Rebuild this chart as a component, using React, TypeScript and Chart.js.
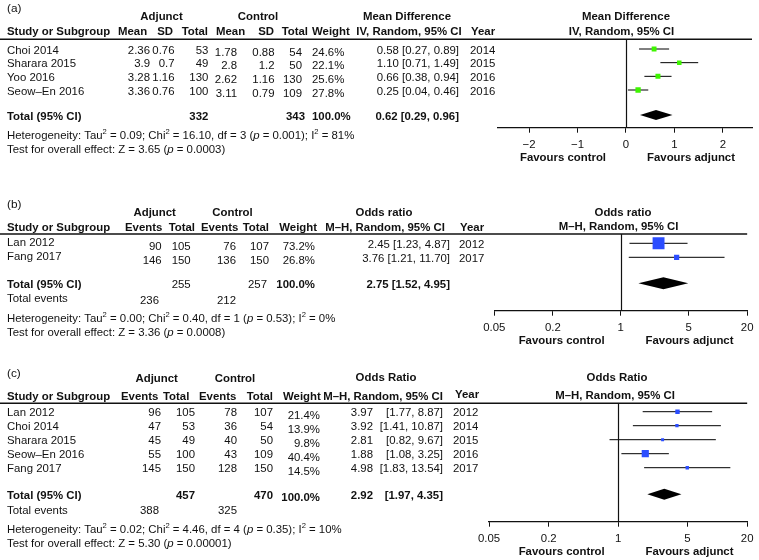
import React, { useEffect, useRef } from 'react';
import { Chart, registerables } from 'chart.js';

Chart.register(...registerables);

const FONT = '"Liberation Sans", Arial, Helvetica, sans-serif';
const FS = 11.4;
const TEXT_DY = 1.6;
const W = 759;
const H = 560;

// ---------------- Panel (a): mean difference ----------------
const studiesA = ['Choi 2014', 'Sharara 2015', 'Yoo 2016', 'Seow–En 2016'];
const adjMeanA = [2.36, 3.9, 3.28, 3.36];
const adjSdA = [0.76, 0.7, 1.16, 0.76];
const adjTotalA = [53, 49, 130, 100];
const ctlMeanA = [1.78, 2.8, 2.62, 3.11];
const ctlSdA = [0.88, 1.2, 1.16, 0.79];
const ctlTotalA = [54, 50, 130, 109];
const weightA = [24.6, 22.1, 25.6, 27.8];
const mdA = [0.58, 1.1, 0.66, 0.25];
const mdLowA = [0.27, 0.71, 0.38, 0.04];
const mdHighA = [0.89, 1.49, 0.94, 0.46];
const yearA = [2014, 2015, 2016, 2016];
const pooledA = [0.62, 0.29, 0.96];
const totalsA = [332, 343];
const hetA = ['0.09', '16.10', '3', '0.001', '81'];
const overallA = ['3.65', '0.0003'];
const tickValuesA = [-2, -1, 0, 1, 2];
const tickLabelsA = ['−2', '−1', '0', '1', '2'];

// ---------------- Panel (b): odds ratio ----------------
const studiesB = ['Lan 2012', 'Fang 2017'];
const adjEventsB = [90, 146];
const adjTotalB = [105, 150];
const ctlEventsB = [76, 136];
const ctlTotalB = [107, 150];
const weightB = [73.2, 26.8];
const orB = [2.45, 3.76];
const orLowB = [1.23, 1.21];
const orHighB = [4.87, 11.7];
const yearB = [2012, 2017];
const pooledB = [2.75, 1.52, 4.95];
const totalsB = [255, 257];
const totalEventsB = [236, 212];
const hetB = ['0.00', '0.40', '1', '0.53', '0'];
const overallB = ['3.36', '0.0008'];

// ---------------- Panel (c): odds ratio ----------------
const studiesC = ['Lan 2012', 'Choi 2014', 'Sharara 2015', 'Seow–En 2016', 'Fang 2017'];
const adjEventsC = [96, 47, 45, 55, 145];
const adjTotalC = [105, 53, 49, 100, 150];
const ctlEventsC = [78, 36, 40, 43, 128];
const ctlTotalC = [107, 54, 50, 109, 150];
const weightC = [21.4, 13.9, 9.8, 40.4, 14.5];
const orC = [3.97, 3.92, 2.81, 1.88, 4.98];
const orLowC = [1.77, 1.41, 0.82, 1.08, 1.83];
const orHighC = [8.87, 10.87, 9.67, 3.25, 13.54];
const yearC = [2012, 2014, 2015, 2016, 2017];
const pooledC = [2.92, 1.97, 4.35];
const totalsC = [457, 470];
const totalEventsC = [388, 325];
const hetC = ['0.02', '4.46', '4', '0.35', '10'];
const overallC = ['5.30', '0.00001'];

const tickValuesOR = [0.05, 0.2, 1, 5, 20];
const tickLabelsOR = ['0.05', '0.2', '1', '5', '20'];

// ---------------- helpers ----------------
type Txt = { text: string; x: number; align: CanvasTextAlign; bold?: boolean; dy?: number };
type Seg = [string, string];

const f2 = (v: number) => v.toFixed(2);
const pct = (v: number) => v.toFixed(1) + '%';
const ciText = (e: number, l: number, h: number) => `${f2(e)} [${f2(l)}, ${f2(h)}]`;
const T = (text: string, x: number, align: CanvasTextAlign, bold = false, dy = 0): Txt => ({ text, x, align, bold, dy });

const hetSegs = (h: string[]): Seg[] => [
  ['Heterogeneity: Tau', 'n'], ['2', 'sup'], [` = ${h[0]}; Chi`, 'n'], ['2', 'sup'],
  [` = ${h[1]}, df = ${h[2]} (`, 'n'], ['p', 'i'], [` = ${h[3]}); I`, 'n'], ['2', 'sup'], [` = ${h[4]}%`, 'n'],
];
const zSegs = (z: string[]): Seg[] => [
  [`Test for overall effect: Z = ${z[0]} (`, 'n'], ['p', 'i'], [` = ${z[1]})`, 'n'],
];

const squareSide = (w: number) => Math.max(3, 0.145 * w + 1.3);

const panels: any[] = [
  {
    label: '(a)', labelY: 7, groupY: 15.5, headY: 30.5,
    groupHeads: [T('Adjunct', 161.5, 'center', true), T('Control', 258, 'center', true), T('Mean Difference', 407, 'center', true)],
    colHeads: [
      T('Study or Subgroup', 7, 'left', true), T('Mean', 118, 'left', true), T('SD', 173, 'right', true), T('Total', 208, 'right', true),
      T('Mean', 216, 'left', true), T('SD', 274, 'right', true), T('Total', 308, 'right', true), T('Weight', 312, 'left', true),
      T('IV, Random, 95% CI', 409, 'center', true), T('Year', 471, 'left', true),
    ],
    n: studiesA.length,
    rowCells: (i: number) => [
      T(studiesA[i], 7, 'left'), T(String(adjMeanA[i]), 150, 'right'), T(String(adjSdA[i]), 174.5, 'right'),
      T(String(adjTotalA[i]), 208.3, 'right'), T(String(ctlMeanA[i]), 237, 'right', false, 2), T(String(ctlSdA[i]), 274.5, 'right', false, 2),
      T(String(ctlTotalA[i]), 302, 'right', false, 2), T(pct(weightA[i]), 312, 'left', false, 2),
      T(ciText(mdA[i], mdLowA[i], mdHighA[i]), 459, 'right'), T(String(yearA[i]), 470, 'left'),
    ],
    totalCells: [
      T('Total (95% CI)', 7, 'left', true), T(String(totalsA[0]), 208.3, 'right', true), T(String(totalsA[1]), 305, 'right', true),
      T('100.0%', 312, 'left', true), T(ciText(pooledA[0], pooledA[1], pooledA[2]), 459, 'right', true),
    ],
    totalEvents: null,
    totalOffset: 1.83,
    plotTitle: 'Mean Difference', plotSub: 'IV, Random, 95% CI', plotTitleY: 15, plotSubY: 30, plotTitleX: 626, plotSubX: 621.5,
    area: { l: 498, r: 752, t: 39.3, b: 127.7 }, rowPx: 49, rowStep: 13.67,
    xType: 'linear', xMin: -2.64, xMax: 2.6, tickValues: tickValuesA, tickLabels: tickLabelsA, nullValue: 0,
    est: mdA, lo: mdLowA, hi: mdHighA, weights: weightA, color: '#3ef500', pooled: pooledA, diamondHalf: 0.37,
    favX: [563, 691], het: hetSegs(hetA), overall: zSegs(overallA),
  },
  {
    label: '(b)', labelY: 203.3, groupY: 211.7, headY: 226,
    groupHeads: [T('Adjunct', 154.7, 'center', true), T('Control', 232.5, 'center', true), T('Odds ratio', 384, 'center', true)],
    colHeads: [
      T('Study or Subgroup', 7, 'left', true), T('Events', 125, 'left', true), T('Total', 195, 'right', true),
      T('Events', 201, 'left', true), T('Total', 269, 'right', true), T('Weight', 317, 'right', true),
      T('M–H, Random, 95% CI', 385, 'center', true), T('Year', 460, 'left', true),
    ],
    n: studiesB.length,
    rowCells: (i: number) => [
      T(studiesB[i], 7, 'left', false, -1.6), T(String(adjEventsB[i]), 161.7, 'right', false, 1.7), T(String(adjTotalB[i]), 190.7, 'right', false, 1.7),
      T(String(ctlEventsB[i]), 236, 'right', false, 1.7), T(String(ctlTotalB[i]), 269, 'right', false, 1.7), T(pct(weightB[i]), 315, 'right', false, 1.7),
      T(ciText(orB[i], orLowB[i], orHighB[i]), 450, 'right'), T(String(yearB[i]), 459, 'left'),
    ],
    totalCells: [
      T('Total (95% CI)', 7, 'left', true), T(String(totalsB[0]), 190.7, 'right'), T(String(totalsB[1]), 267, 'right'),
      T('100.0%', 315, 'right', true), T(ciText(pooledB[0], pooledB[1], pooledB[2]), 450, 'right', true),
    ],
    totalEvents: [T('Total events', 7, 'left', false, -1), T(String(totalEventsB[0]), 159, 'right', false, 1.5), T(String(totalEventsB[1]), 236, 'right', false, 1.5)],
    totalOffset: 1.86,
    plotTitle: 'Odds ratio', plotSub: 'M–H, Random, 95% CI', plotTitleY: 211.7, plotSubY: 225.7, plotTitleX: 623, plotSubX: 618.5,
    area: { l: 494.3, r: 752, t: 234, b: 310.7 }, rowPx: 243.3, rowStep: 14,
    xType: 'logarithmic', xMin: 0.05, xMax: 20, tickValues: tickValuesOR, tickLabels: tickLabelsOR, nullValue: 1,
    est: orB, lo: orLowB, hi: orHighB, weights: weightB, color: '#2b4dff', pooled: pooledB, diamondHalf: 0.43,
    favX: [561.7, 689.5], het: hetSegs(hetB), overall: zSegs(overallB),
  },
  {
    label: '(c)', labelY: 371.7, groupY: 377.3, headY: 395,
    groupHeads: [T('Adjunct', 156.7, 'center', true), T('Control', 235, 'center', true), T('Odds Ratio', 386, 'center', true, -0.6)],
    colHeads: [
      T('Study or Subgroup', 7, 'left', true), T('Events', 121, 'left', true), T('Total', 163, 'left', true),
      T('Events', 199, 'left', true), T('Total', 273, 'right', true), T('Weight', 283, 'left', true),
      T('M–H, Random, 95% CI', 383, 'center', true), T('Year', 455, 'left', true, -1.7),
    ],
    n: studiesC.length,
    rowCells: (i: number) => [
      T(studiesC[i], 7, 'left'), T(String(adjEventsC[i]), 161, 'right'), T(String(adjTotalC[i]), 195, 'right'),
      T(String(ctlEventsC[i]), 237, 'right'), T(String(ctlTotalC[i]), 273, 'right'), T(pct(weightC[i]), 320, 'right', false, 3),
      T(f2(orC[i]), 373, 'right'), T(`[${f2(orLowC[i])}, ${f2(orHighC[i])}]`, 443, 'right'), T(String(yearC[i]), 453, 'left'),
    ],
    totalCells: [
      T('Total (95% CI)', 7, 'left', true), T(String(totalsC[0]), 195, 'right', true), T(String(totalsC[1]), 273, 'right', true),
      T('100.0%', 320, 'right', true, 2), T(f2(pooledC[0]), 373, 'right', true), T(`[${f2(pooledC[1])}, ${f2(pooledC[2])}]`, 443, 'right', true),
    ],
    totalEvents: [T('Total events', 7, 'left'), T(String(totalEventsC[0]), 159, 'right'), T(String(totalEventsC[1]), 237, 'right')],
    totalOffset: 1.9,
    plotTitle: 'Odds Ratio', plotSub: 'M–H, Random, 95% CI', plotTitleY: 376.7, plotSubY: 394.3, plotTitleX: 617, plotSubX: 615,
    area: { l: 489, r: 752.7, t: 403.3, b: 521.7 }, rowPx: 411.7, rowStep: 14,
    xType: 'logarithmic', xMin: 0.05, xMax: 20, tickValues: tickValuesOR, tickLabels: tickLabelsOR, nullValue: 1,
    est: orC, lo: orLowC, hi: orHighC, weights: weightC, color: '#2b4dff', pooled: pooledC, diamondHalf: 0.39,
    favX: [561.7, 689.5], het: hetSegs(hetC), overall: zSegs(overallC),
  },
];

function drawTxt(ctx: CanvasRenderingContext2D, t: Txt, y: number) {
  ctx.font = `${t.bold ? 'bold ' : ''}${FS}px ${FONT}`;
  ctx.textAlign = t.align;
  ctx.fillText(t.text, t.x, y + (t.dy || 0) + TEXT_DY);
}

function drawRich(ctx: CanvasRenderingContext2D, x: number, y: number, segs: Seg[]) {
  let cx = x;
  ctx.textAlign = 'left';
  for (const [t, s] of segs) {
    let dy = 0;
    if (s === 'sup') { ctx.font = `7.6px ${FONT}`; dy = -4; }
    else if (s === 'i') ctx.font = `italic ${FS}px ${FONT}`;
    else ctx.font = `${FS}px ${FONT}`;
    ctx.fillText(t, cx, y + dy + TEXT_DY);
    cx += ctx.measureText(t).width;
  }
}

const AXIS_H = 40;

function makeChart(canvas: HTMLCanvasElement, p: any) {
  const yMin = 1 - (p.rowPx - p.area.t) / p.rowStep;
  const yMax = 1 + (p.area.b - p.rowPx) / p.rowStep;
  const rows = p.est.map((_: number, i: number) => i + 1);
  const totalRow = p.n + p.totalOffset;

  const datasets: any[] = [
    {
      data: p.est.map((v: number, i: number) => ({ x: v, y: rows[i] })),
      pointStyle: 'rect',
      pointRadius: p.weights.map((w: number) => squareSide(w) / Math.SQRT2),
      backgroundColor: p.color,
      borderColor: p.color,
      borderWidth: 0,
    },
    ...p.lo.map((lo: number, i: number) => ({
      data: [{ x: lo, y: rows[i] }, { x: p.hi[i], y: rows[i] }],
      showLine: true,
      borderColor: '#000',
      borderWidth: 1,
      pointRadius: 0,
    })),
  ];

  const plugin = {
    id: 'forestTable',
    afterDraw(chart: any) {
      const { ctx, chartArea: ca } = chart;
      const xs = chart.scales.x;
      const ys = chart.scales.y;
      const py = (v: number) => ys.getPixelForValue(v);
      ctx.save();
      // header rule
      ctx.strokeStyle = '#111';
      ctx.lineWidth = 1.6;
      ctx.beginPath();
      ctx.moveTo(0, ca.top);
      ctx.lineTo(ca.right, ca.top);
      ctx.stroke();
      // null line
      const nx = Math.round(xs.getPixelForValue(p.nullValue)) + 0.5;
      ctx.lineWidth = 1.2;
      ctx.beginPath();
      ctx.moveTo(nx, ca.top);
      ctx.lineTo(nx, ca.bottom);
      ctx.stroke();
      // pooled diamond
      const [pe, pl, ph] = p.pooled;
      ctx.fillStyle = '#000';
      ctx.beginPath();
      ctx.moveTo(xs.getPixelForValue(pl), py(totalRow));
      ctx.lineTo(xs.getPixelForValue(pe), py(totalRow - p.diamondHalf));
      ctx.lineTo(xs.getPixelForValue(ph), py(totalRow));
      ctx.lineTo(xs.getPixelForValue(pe), py(totalRow + p.diamondHalf));
      ctx.closePath();
      ctx.fill();

      // texts
      ctx.fillStyle = '#111';
      ctx.textBaseline = 'middle';
      ctx.font = `11.8px ${FONT}`;
      ctx.textAlign = 'left';
      ctx.fillText(p.label, 7, p.labelY + TEXT_DY);
      p.groupHeads.forEach((t: Txt) => drawTxt(ctx, t, p.groupY));
      p.colHeads.forEach((t: Txt) => drawTxt(ctx, t, p.headY));
      for (let i = 0; i < p.n; i++) {
        p.rowCells(i).forEach((t: Txt) => drawTxt(ctx, t, py(rows[i])));
      }
      p.totalCells.forEach((t: Txt) => drawTxt(ctx, t, py(totalRow)));
      let lastY = py(totalRow);
      if (p.totalEvents) {
        lastY = py(totalRow + 1.05);
        p.totalEvents.forEach((t: Txt) => drawTxt(ctx, t, lastY));
      }
      drawRich(ctx, 7, lastY + 19.3, p.het);
      drawRich(ctx, 7, lastY + 33.3, p.overall);

      // plot headers
      drawTxt(ctx, T(p.plotTitle, p.plotTitleX, 'center', true), p.plotTitleY);
      drawTxt(ctx, T(p.plotSub, p.plotSubX, 'center', true), p.plotSubY);
      // favours
      drawTxt(ctx, T('Favours control', p.favX[0], 'center', true), ca.bottom + 29);
      drawTxt(ctx, T('Favours adjunct', p.favX[1], 'center', true), ca.bottom + 29);
      ctx.restore();
    },
  };

  return new Chart(canvas, {
    type: 'scatter',
    data: { datasets },
    plugins: [plugin],
    options: {
      responsive: false,
      animation: false,
      events: [],
      layout: {
        padding: { left: p.area.l, right: W - p.area.r, top: p.area.t, bottom: H - p.area.b - AXIS_H },
      },
      plugins: { legend: { display: false }, tooltip: { enabled: false } },
      scales: {
        x: {
          type: p.xType,
          min: p.xMin,
          max: p.xMax,
          afterFit: (axis: any) => { axis.height = AXIS_H; },
          afterBuildTicks: (axis: any) => { axis.ticks = p.tickValues.map((v: number) => ({ value: v })); },
          ticks: {
            callback: (_v: any, idx: number) => p.tickLabels[idx],
            font: { family: FONT, size: FS },
            color: '#111',
            padding: 5.5,
            autoSkip: false,
            maxRotation: 0,
            minRotation: 0,
          },
          grid: { drawOnChartArea: false, drawTicks: true, tickLength: 5, color: '#111', lineWidth: 1 },
          border: { display: true, color: '#111', width: 1.2 },
        },
        y: { type: 'linear', display: false, reverse: true, min: yMin, max: yMax },
      },
    } as any,
  });
}

export default function App() {
  const refs = [useRef<HTMLCanvasElement>(null), useRef<HTMLCanvasElement>(null), useRef<HTMLCanvasElement>(null)];
  useEffect(() => {
    const charts = panels.map((p, i) => makeChart(refs[i].current as HTMLCanvasElement, p));
    return () => charts.forEach((c) => c.destroy());
  }, []);
  return (
    <div style={{ position: 'absolute', left: 0, top: 0, width: W, height: H, background: '#fff' }}>
      {refs.map((r, i) => (
        <canvas key={i} ref={r} width={W} height={H} style={{ position: 'absolute', left: 0, top: 0, width: W, height: H }} />
      ))}
    </div>
  );
}
